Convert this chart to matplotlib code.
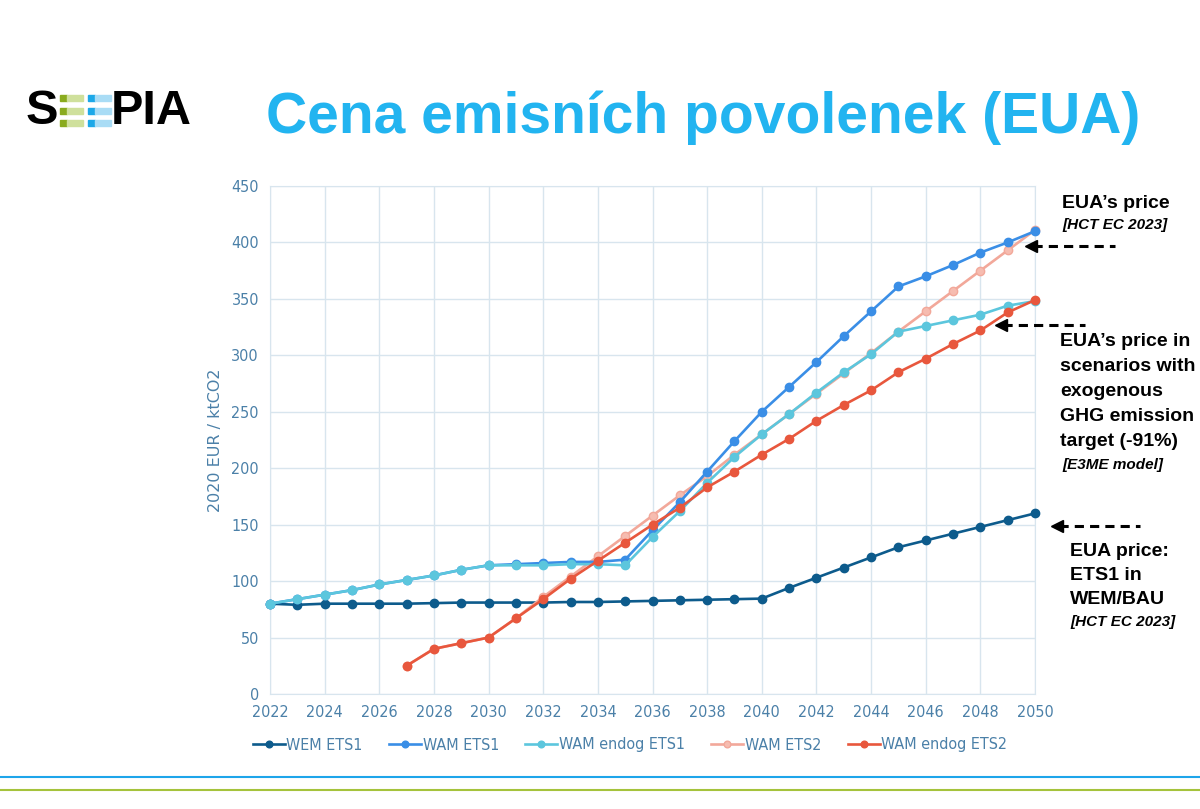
import matplotlib.pyplot as plt
from matplotlib.lines import Line2D
from matplotlib.patches import Rectangle
from matplotlib.font_manager import FontProperties

years = list(range(2022, 2051))

wem_ets1 = [80, 79, 80, 80, 80, 80, 80.5, 81, 81, 81, 81, 81.5, 81.5, 82, 82.5, 83, 83.5, 84, 84.5,
            94, 103, 112, 121, 130, 136, 142, 148, 154, 160]
wam_ets1 = [80, 84, 88, 92, 97, 101, 105, 110, 114, 115, 116, 117, 117, 119, 145, 170, 197, 224, 250,
            272, 294, 317, 339, 361, 370, 380, 391, 400, 410]
wam_endog_ets1 = [80, 84, 88, 92, 97, 101, 105, 110, 114, 114, 114, 115, 115, 114, 139, 162, 187, 210, 230,
                  248, 267, 285, 301, 321, 326, 331, 336, 344, 348]
ets2_years = list(range(2027, 2051))
wam_ets2 = [25, 40, 45, 50, 67, 86, 104, 122, 140, 158, 176, 193, 212, 230,
            248, 266, 284, 302, 321, 339, 357, 375, 393, 411]
wam_endog_ets2 = [25, 40, 45, 50, 67, 84, 102, 118, 134, 150, 165, 183, 197, 212,
                  226, 242, 256, 269, 285, 297, 310, 322, 338, 349]

W, H = 1200, 809


def px(x, y):
    return x / W, 1 - y / H


fig = plt.figure(figsize=(12, 8.09), dpi=100)
fig.patch.set_facecolor('white')
ax = fig.add_axes([270 / W, 1 - 694 / H, (1035 - 270) / W, (694 - 186) / H])

series = [
    ("WEM ETS1", years, wem_ets1, '#0d5b8c', '#0d5b8c'),
    ("WAM ETS1", years, wam_ets1, '#3a8ee6', '#3a8ee6'),
    ("WAM endog ETS1", years, wam_endog_ets1, '#5cc6dd', '#5cc6dd'),
    ("WAM ETS2", ets2_years, wam_ets2, '#f2a89a', '#f6bcb0'),
    ("WAM endog ETS2", ets2_years, wam_endog_ets2, '#e8573d', '#e8573d'),
]
draw_order = [0, 3, 1, 2, 4]
handles = {}
for i in draw_order:
    name, xs, ys, col, mfc = series[i]
    h, = ax.plot(xs, ys, color=col, lw=1.9, marker='o', ms=6, mfc=mfc, mec=col,
                 label=name, clip_on=False, zorder=3)
    handles[i] = h

ax.set_xlim(2022, 2050)
ax.set_ylim(0, 450)
ax.set_xticks(range(2022, 2051, 2))
ax.set_yticks(range(0, 451, 50))
tick_col = '#4b80a8'
cond = FontProperties(family='DejaVu Sans', stretch='condensed', size=11.5)
ax.tick_params(axis='both', length=0, colors=tick_col, pad=8)
for lab in ax.get_xticklabels() + ax.get_yticklabels():
    lab.set_fontproperties(cond)
ax.grid(True, color='#d8e5ee', lw=1)
ax.set_axisbelow(True)
for s in ax.spines.values():
    s.set_color('#d8e5ee')
    s.set_zorder(1)
ax.set_ylabel("2020 EUR / ktCO2", color=tick_col, fontsize=11.5, labelpad=6)

fig.legend([handles[i] for i in range(5)], [series[i][0] for i in range(5)],
           loc='center', bbox_to_anchor=px(630, 745), ncol=5, frameon=False,
           prop=FontProperties(family='DejaVu Sans', stretch='condensed', size=11.5),
           labelcolor=tick_col, handlelength=2.0, handletextpad=0.1,
           columnspacing=1.65, markerscale=0.8)

# title
fig.text(*px(703, 118), "Cena emisních povolenek (EUA)", color='#22b4f0',
         fontsize=41, fontweight='bold', ha='center', va='center', family='Liberation Sans')

# logo
fig.text(*px(26, 111), "S", fontsize=35, fontweight='bold', ha='left', va='center',
         family='Liberation Sans', color='black')
fig.text(*px(111, 111), "PIA", fontsize=35, fontweight='bold', ha='left', va='center',
         family='Liberation Sans', color='black')
for x0, dark, light in [(60, '#8aab1e', '#cfe09c'), (88, '#1ca8e8', '#a9dcf5')]:
    for yb in [95, 107.5, 120]:
        fig.add_artist(Rectangle(px(x0, yb + 6), 7 / W, 6 / H, color=dark, transform=fig.transFigure))
        fig.add_artist(Rectangle(px(x0 + 7, yb + 6), 16 / W, 6 / H, color=light, transform=fig.transFigure))

# annotations
def note(x, y, txt, italic=False, size=14):
    fig.text(*px(x, y), txt, fontsize=size, fontweight='bold', ha='left', va='center',
             family='Liberation Sans', style='italic' if italic else 'normal', color='black')


note(1062, 203, "EUA\u2019s price")
note(1062, 225, "[HCT EC 2023]", italic=True, size=11)
for i, t in enumerate(["EUA\u2019s price in", "scenarios with", "exogenous",
                       "GHG emission", "target (-91%)"]):
    note(1060, 342 + i * 24.8, t)
note(1062, 465, "[E3ME model]", italic=True, size=11)
for i, t in enumerate(["EUA price:", "ETS1 in", "WEM/BAU"]):
    note(1070, 552 + i * 24, t)
note(1070, 622, "[HCT EC 2023]", italic=True, size=11)


def arrow(x_tip, x_end, y):
    fig.add_artist(Line2D([x_tip / W + 0.006, x_end / W], [1 - y / H] * 2, color='black',
                          lw=2.2, ls=(0, (3, 2)), transform=fig.transFigure))
    fig.add_artist(Line2D([x_tip / W + 0.004], [1 - y / H], marker='<', ms=8, color='black',
                          transform=fig.transFigure))


arrow(1026, 1115, 246)
arrow(996, 1085, 325)
arrow(1052, 1140, 526)

# bottom lines
fig.add_artist(Line2D([0, 1], [1 - 777 / H] * 2, color='#1ea5ea', lw=1.5, transform=fig.transFigure))
fig.add_artist(Line2D([0, 1], [1 - 790 / H] * 2, color='#a5c33c', lw=1.5, transform=fig.transFigure))

fig.savefig("out.png", dpi=100)
